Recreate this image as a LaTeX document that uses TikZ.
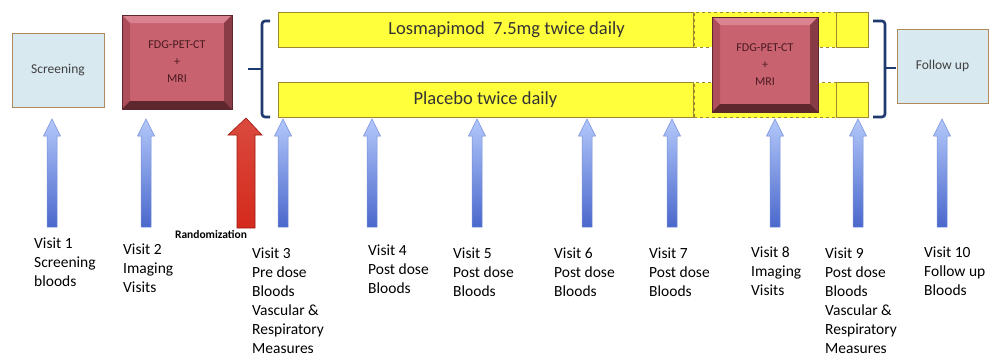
\documentclass[tikz,border=0pt]{standalone}
\usepackage{fontspec}
\setmainfont{Carlito}
\usepackage{xcolor}
\usepackage{tikz}
\usetikzlibrary{arrows.meta,positioning,calc}

\definecolor{screenfill}{HTML}{D8E9F0}
\definecolor{screenedge}{HTML}{B08A5C}
\definecolor{barfill}{HTML}{FFFF3C}
\definecolor{baredge}{HTML}{A0882E}
\definecolor{fdgface}{HTML}{C8626E}
\definecolor{fdglight}{HTML}{DA8290}
\definecolor{fdgleft}{HTML}{AE4E5A}
\definecolor{fdgright}{HTML}{8A3C46}
\definecolor{fdgdark}{HTML}{5E262D}
\definecolor{fdgtext}{HTML}{4A1A22}
\definecolor{bracecol}{HTML}{1F3A6E}
\definecolor{arrowtop}{HTML}{B3C8FA}
\definecolor{arrowbot}{HTML}{4A68CC}
\definecolor{arrowedge}{HTML}{7590DA}
\definecolor{randred}{HTML}{D42A1C}
\definecolor{randedge}{HTML}{A01810}

\begin{document}
\begin{tikzpicture}[x=1pt,y=-1pt,
  visitbox/.style={draw=screenedge,fill=screenfill,line width=1pt,minimum width=92pt,minimum height=74pt,
    text=black!75,font=\fontsize{13.5}{16}\selectfont},
  fdgbox/.style={draw=fdgdark,fill=fdgface,line width=0.6pt,minimum width=110pt,minimum height=94pt,
    align=center,text=fdgtext,font=\fontsize{12}{17}\selectfont,
    path picture={
      \fill[fdglight] (path picture bounding box.north west) -- (path picture bounding box.north east)
        -- ([xshift=-8pt,yshift=-8pt]path picture bounding box.north east)
        -- ([xshift=8pt,yshift=-8pt]path picture bounding box.north west) -- cycle;
      \fill[fdgleft] (path picture bounding box.north west) -- (path picture bounding box.south west)
        -- ([xshift=8pt,yshift=8pt]path picture bounding box.south west)
        -- ([xshift=8pt,yshift=-8pt]path picture bounding box.north west) -- cycle;
      \fill[fdgright] (path picture bounding box.north east) -- (path picture bounding box.south east)
        -- ([xshift=-8pt,yshift=8pt]path picture bounding box.south east)
        -- ([xshift=-8pt,yshift=-8pt]path picture bounding box.north east) -- cycle;
      \fill[fdgdark] (path picture bounding box.south west) -- (path picture bounding box.south east)
        -- ([xshift=-8pt,yshift=8pt]path picture bounding box.south east)
        -- ([xshift=8pt,yshift=8pt]path picture bounding box.south west) -- cycle;
    }},
  drugbar/.style={draw=baredge,fill=barfill,line width=1pt,minimum height=35pt,inner sep=0pt,
    font=\fontsize{18.5}{22}\selectfont,text=black!80},
  visit/.style={anchor=base west,align=left,inner sep=0pt,font=\fontsize{15.5}{19}\selectfont},
  bracket/.style={draw=bracecol,line width=2.6pt,rounded corners=3pt}]

\useasboundingbox (0,0) rectangle (989,359);

% boxes
\node[visitbox] (screen) at (58,70) {Screening};
\node[fdgbox] (scan1) at (177,62) {FDG-PET-CT\\+\\MRI};
\node[visitbox,minimum width=91pt] (follow) at (942.5,66) {Follow up};

% treatment bars
\node[drugbar,minimum width=415pt] (drug) at (485.5,29.5) {};
\node[font=\fontsize{18.5}{22}\selectfont,text=black!80] (drugtext) at ([xshift=21pt]drug.center) {Losmapimod\ \ 7.5mg twice daily};
\node[drugbar,minimum width=415pt] (placebo) at (485.5,100) {Placebo twice daily};
\node[drugbar,dashed,minimum width=174pt,anchor=west] (drugext) at (drug.east) {};
\node[drugbar,dashed,minimum width=174pt,anchor=west] (placeboext) at (placebo.east) {};
\node[drugbar,minimum width=32pt,anchor=north east] (drugend) at (drugext.north east) {};
\node[drugbar,minimum width=32pt,anchor=north east] (placeboend) at (placeboext.north east) {};
\node[fdgbox,minimum width=106pt,minimum height=95pt] (scan2) at (765,64.5) {FDG-PET-CT\\+\\MRI};

% brackets
\draw[bracket] (270,21) -- (262,21) -- (262,117) -- (270,117);
\draw[bracket,rounded corners=0pt] (248,69) -- (262,69);
\draw[bracket] (873,21) -- (885,21) -- (885,117) -- (873,117);
\draw[bracket,rounded corners=0pt] (885,68) -- (896,68);

% visit arrows
\foreach \x in {52,146,283,372,477,587,672,775,858,942}
  \shade[top color=arrowtop,bottom color=arrowbot,draw=arrowedge,line width=0.5pt]
    (\x-5,227) -- (\x-5,136) -- (\x-8.5,136) -- (\x,119) -- (\x+8.5,136) -- (\x+5,136) -- (\x+5,227) -- cycle;
\shade[top color=randred!85!white,bottom color=randred,draw=randedge,line width=0.6pt]
  (237,228) -- (237,135) -- (228,135) -- (246,118) -- (262,135) -- (255,135) -- (255,228) -- cycle;
\node[font=\bfseries\fontsize{11.5}{13}\selectfont,inner sep=0pt] (rand) at (211,234) {Randomization};

% labels (base = last line)
\node[visit] (v1) at (34,286) {Visit 1\\Screening\\bloods};
\node[visit] (v2) at (123,292) {Visit 2\\Imaging\\Visits};
\node[visit] (v3) at (252,353) {Visit 3\\Pre dose\\Bloods\\Vascular \&\\Respiratory\\Measures};
\node[visit] (v4) at (368,293) {Visit 4\\Post dose\\Bloods};
\node[visit] (v5) at (453,296) {Visit 5\\Post dose\\Bloods};
\node[visit] (v6) at (554,296) {Visit 6\\Post dose\\Bloods};
\node[visit] (v7) at (649,296) {Visit 7\\Post dose\\Bloods};
\node[visit] (v8) at (751,295) {Visit 8\\Imaging\\Visits};
\node[visit] (v9) at (825,353) {Visit 9\\Post dose\\Bloods\\Vascular \&\\Respiratory\\Measures};
\node[visit] (v10) at (924,295) {Visit 10\\Follow up\\Bloods};
\end{tikzpicture}
\end{document}
